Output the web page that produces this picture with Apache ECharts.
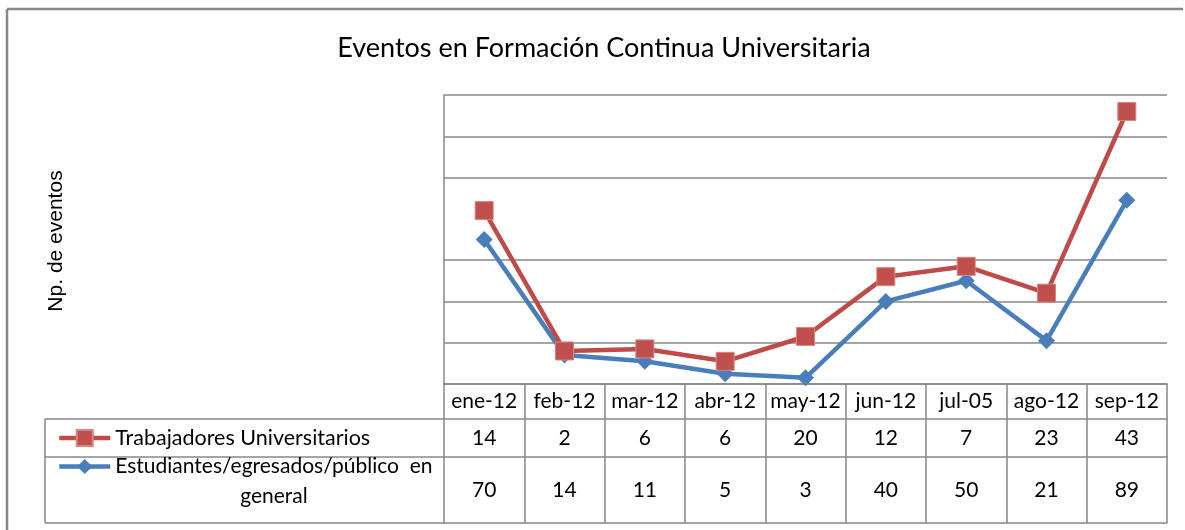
<!DOCTYPE html>
<html><head><meta charset="utf-8">
<script src="https://cdn.jsdelivr.net/npm/echarts@6/dist/echarts.min.js"></script>
<style>html,body{margin:0;padding:0;background:#fff}#c{width:1185px;height:530px}</style>
</head><body><div id="c"></div>
<script>
// ---- data ----
const chartTitle = 'Eventos en Formación Continua Universitaria';
const yAxisTitle = 'Np. de eventos';
const categories = ['ene-12','feb-12','mar-12','abr-12','may-12','jun-12','jul-05','ago-12','sep-12'];
const nameTrabajadores = 'Trabajadores Universitarios';
const nameEstudiantes = 'Estudiantes/egresados/público  en general';
const trabajadores = [14, 2, 6, 6, 20, 12, 7, 23, 43];
const estudiantes = [70, 14, 11, 5, 3, 40, 50, 21, 89];
const yTicks = [0, 20, 40, 60, 80, 100, 120, 140];
const hiddenGridValue = 80;

// ---- styles ----
const GRAY = '#878787';
const BLUE = '#4A7EBB';
const RED = '#BE4B48';
const FONT = 'Lato, "Open Sans", sans-serif';
const FS = 21;
const LH = 20;

const chart = echarts.init(document.getElementById('c'), null, {renderer: 'canvas'});

const plotLeft = 444, plotTop = 95, plotW = 723, plotH = 289;
const plotBottom = plotTop + plotH;        // 384
const row1Line = 419, row2Line = 457, tableBottom = 523;
const legendLeftX = 45;

function rowAxis(values, offset, margin) {
  return {
    type: 'category', data: categories, gridIndex: 0, position: 'bottom', offset: offset,
    axisLine: {show: true, lineStyle: {color: GRAY, width: 1.5}},
    axisTick: {show: false},
    axisLabel: {show: values !== null, interval: 0, margin: margin,
      formatter: (v, i) => values ? String(values[i]) : '',
      fontFamily: FONT, fontSize: FS, lineHeight: LH, color: '#000'},
    splitLine: {show: false}
  };
}

const option = {
  backgroundColor: '#fff',
  animation: false,
  title: {
    text: chartTitle, left: 599, top: 30, textAlign: 'center',
    textStyle: {fontFamily: FONT, fontSize: 27, fontWeight: 'normal', color: '#000'}
  },
  grid: {left: plotLeft, top: plotTop, width: plotW, height: plotH},
  xAxis: [
    {
      type: 'category', data: categories, gridIndex: 0, position: 'bottom', boundaryGap: true,
      axisLine: {show: true, lineStyle: {color: GRAY, width: 1.5}},
      axisTick: {show: true, interval: 0, length: tableBottom - plotBottom, lineStyle: {color: GRAY, width: 1.5}},
      axisLabel: {interval: 0, margin: 7, fontFamily: FONT, fontSize: FS, lineHeight: LH, color: '#000'},
      splitLine: {show: false}
    },
    rowAxis(trabajadores, row1Line - plotBottom, 9),
    rowAxis(estudiantes, row2Line - plotBottom, 23),
    rowAxis(null, tableBottom - plotBottom, 0)
  ],
  yAxis: {
    type: 'value', min: yTicks[0], max: yTicks[yTicks.length - 1], interval: yTicks[1] - yTicks[0],
    axisLine: {show: true, lineStyle: {color: GRAY, width: 1.5}},
    axisTick: {show: false},
    axisLabel: {show: false},
    splitLine: {show: true, lineStyle: {
      color: yTicks.map(v => v === hiddenGridValue ? 'rgba(0,0,0,0)' : GRAY), width: 1.5}}
  },
  legend: [
    {
      data: [nameTrabajadores], left: 57, top: 438 - 11, orient: 'vertical', padding: 0,
      itemWidth: 51, itemHeight: 20, selectedMode: false,
      lineStyle: {width: 4.5},
      textStyle: {fontFamily: FONT, fontSize: 21.5, lineHeight: 22, color: '#000'}
    },
    {
      data: [nameEstudiantes], left: 57, top: 471 - 45, orient: 'vertical', padding: 0,
      itemWidth: 51, itemHeight: 19, selectedMode: false,
      lineStyle: {width: 4.5},
      formatter: (name) => {
        const i = name.lastIndexOf(' ');
        return '{s| }\n{a|' + name.slice(0, i) + '}\n{c|' + name.slice(i + 1) + '}';
      },
      textStyle: {fontFamily: FONT, fontSize: 21, color: '#000',
        rich: {
          s: {fontFamily: FONT, fontSize: 21, lineHeight: 30},
          a: {fontFamily: FONT, fontSize: 21, lineHeight: 30, color: '#000'},
          c: {fontFamily: FONT, fontSize: 21, lineHeight: 30, color: '#000', align: 'center'}
        }}
    }
  ],
  graphic: [
    {type: 'line', silent: true, shape: {x1: 7, y1: 9, x2: 1183, y2: 9}, style: {stroke: GRAY, lineWidth: 2.5}},
    {type: 'line', silent: true, shape: {x1: 7, y1: 9, x2: 7, y2: 530}, style: {stroke: GRAY, lineWidth: 2.5}},
    {type: 'line', silent: true, shape: {x1: legendLeftX, y1: row1Line, x2: plotLeft, y2: row1Line}, style: {stroke: GRAY, lineWidth: 1.5}},
    {type: 'line', silent: true, shape: {x1: legendLeftX, y1: row2Line, x2: plotLeft, y2: row2Line}, style: {stroke: GRAY, lineWidth: 1.5}},
    {type: 'line', silent: true, shape: {x1: legendLeftX, y1: tableBottom, x2: plotLeft, y2: tableBottom}, style: {stroke: GRAY, lineWidth: 1.5}},
    {type: 'line', silent: true, shape: {x1: legendLeftX, y1: row1Line, x2: legendLeftX, y2: tableBottom}, style: {stroke: GRAY, lineWidth: 1.5}},
    {type: 'text', silent: true, x: 56, y: 241, rotation: Math.PI / 2,
      style: {text: yAxisTitle, fontFamily: '"Liberation Sans", Arial, sans-serif', fontSize: 21,
        fill: '#000', align: 'center', verticalAlign: 'middle'}}
  ],
  series: [
    {
      name: nameEstudiantes, type: 'line', stack: 'total', data: estudiantes,
      symbol: 'diamond', symbolSize: 17, z: 2,
      lineStyle: {color: BLUE, width: 4.5}, itemStyle: {color: BLUE}
    },
    {
      name: nameTrabajadores, type: 'line', stack: 'total', data: trabajadores,
      symbol: 'rect', symbolSize: 18, z: 3,
      lineStyle: {color: RED, width: 4.5}, itemStyle: {color: '#C0504D', borderColor: '#D98481', borderWidth: 1}
    }
  ]
};
chart.setOption(option);
</script>
</body></html>
